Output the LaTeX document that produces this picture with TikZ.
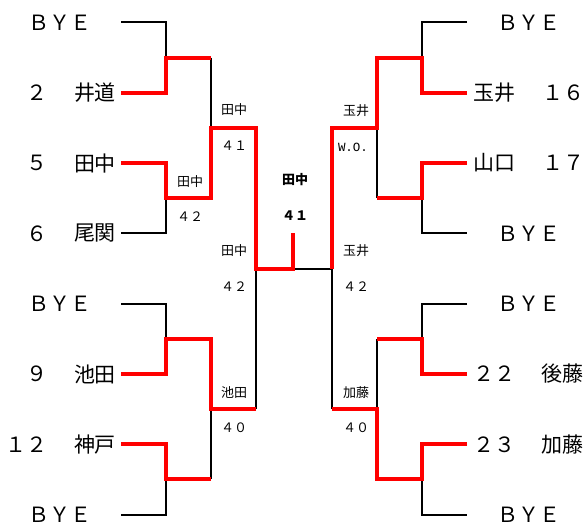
\documentclass[tikz,border=0pt]{standalone}
\usepackage{fontspec}
\setmainfont{Noto Sans CJK JP}
\newfontfamily\wofont{Liberation Mono}
\begin{document}
\begin{tikzpicture}[x=1pt,y=-1pt,
  bk/.style={line width=2pt,black},
  rd/.style={line width=4pt,red,line join=miter},
  big/.style={font=\fontsize{21}{22}\selectfont,inner sep=0pt},
  small/.style={font=\fontsize{13}{14}\selectfont,inner sep=0pt},
  smallb/.style={font=\fontsize{13}{14}\selectfont\bfseries,inner sep=0pt}]
\useasboundingbox (0,0) rectangle (587,524);
% leaf rows
\def\ya{22.5}\def\yb{92.8}\def\yc{163.1}\def\yd{233.4}
\def\ye{303.7}\def\yf{374}\def\yg{444.3}\def\yh{514.6}
% joins
\def\mab{57.65}\def\mcd{198.25}\def\mef{338.85}\def\mgh{479.45}
\def\Ma{127.95}\def\Mb{409.15}\def\F{268.5}
% x columns
\def\la{121}\def\lb{166}\def\lc{211}\def\ld{256}\def\cx{293}
\def\ra{467}\def\rb{422}\def\rc{377}\def\rd{332}
% ---- black bracket
\foreach \p/\q/\m in {\ya/\yb/\mab,\yc/\yd/\mcd,\ye/\yf/\mef,\yg/\yh/\mgh}{
  \draw[bk] (\la,\p) -- (\lb,\p) -- (\lb,\q) -- (\la,\q);
  \draw[bk] (\lb,\m) -- (\lc,\m);
  \draw[bk] (\ra,\p) -- (\rb,\p) -- (\rb,\q) -- (\ra,\q);
  \draw[bk] (\rb,\m) -- (\rc,\m);
}
\foreach \p/\q/\m in {\mab/\mcd/\Ma,\mef/\mgh/\Mb}{
  \draw[bk] (\lc,\p) -- (\lc,\q);
  \draw[bk] (\lc,\m) -- (\ld,\m);
  \draw[bk] (\rc,\p) -- (\rc,\q);
  \draw[bk] (\rc,\m) -- (\rd,\m);
}
\draw[bk] (\ld,\Ma) -- (\ld,\Mb);
\draw[bk] (\rd,\Ma) -- (\rd,\Mb);
\draw[bk] (\ld,\F) -- (\rd,\F);
% ---- red winners, left
\draw[rd] (\la,\yb) -- (\lb,\yb) -- (\lb,\mab) -- (\lc,\mab);
\draw[rd] (\la,\yc) -- (\lb,\yc) -- (\lb,\mcd) -- (\lc,\mcd) -- (\lc,\Ma)
  -- (\ld,\Ma) -- (\ld,\F) -- (\cx,\F) -- (\cx,233);
\draw[rd] (\la,\yf) -- (\lb,\yf) -- (\lb,\mef) -- (\lc,\mef) -- (\lc,\Mb) -- (\ld,\Mb);
\draw[rd] (\la,\yg) -- (\lb,\yg) -- (\lb,\mgh) -- (\lc,\mgh);
% ---- red winners, right
\draw[rd] (\ra,\yb) -- (\rb,\yb) -- (\rb,\mab) -- (\rc,\mab) -- (\rc,\Ma)
  -- (\rd,\Ma) -- (\rd,\F);
\draw[rd] (\ra,\yc) -- (\rb,\yc) -- (\rb,\mcd) -- (\rc,\mcd);
\draw[rd] (\ra,\yf) -- (\rb,\yf) -- (\rb,\mef) -- (\rc,\mef);
\draw[rd] (\ra,\yg) -- (\rb,\yg) -- (\rb,\mgh) -- (\rc,\mgh) -- (\rc,\Mb) -- (\rd,\Mb);
% ---- left names
\node[big] (lbye1) at (60,\ya) {ＢＹＥ};
\node[big] (ln2) at (37,\yb) {２};   \node[big] (lp2) at (95,\yb) {井道};
\node[big] (ln5) at (37,\yc) {５};   \node[big] (lp5) at (95,\yc) {田中};
\node[big] (ln6) at (37,\yd) {６};   \node[big] (lp6) at (95,\yd) {尾関};
\node[big] (lbye2) at (60,\ye) {ＢＹＥ};
\node[big] (ln9) at (37,\yf) {９};   \node[big] (lp9) at (95,\yf) {池田};
\node[big] (ln12) at (26.5,\yg) {１２}; \node[big] (lp12) at (95,\yg) {神戸};
\node[big] (lbye3) at (60,\yh) {ＢＹＥ};
% ---- right names
\node[big] (rbye1) at (529,\ya) {ＢＹＥ};
\node[big] (rp16) at (494.5,\yb) {玉井}; \node[big] (rn16) at (563,\yb) {１６};
\node[big] (rp17) at (494.5,\yc) {山口}; \node[big] (rn17) at (563,\yc) {１７};
\node[big] (rbye2) at (529,\yd) {ＢＹＥ};
\node[big] (rbye3) at (529,\ye) {ＢＹＥ};
\node[big] (rn22) at (494.5,\yf) {２２}; \node[big] (rp22) at (562.5,\yf) {後藤};
\node[big] (rn23) at (494.5,\yg) {２３}; \node[big] (rp23) at (562.5,\yg) {加藤};
\node[big] (rbye4) at (529,\yh) {ＢＹＥ};
% ---- score labels, left
\node[small] (s1) at (190,182) {田中}; \node[small] (s1n) at (190,217) {４２};
\node[small] (s2) at (234,110) {田中}; \node[small] (s2n) at (234,146) {４１};
\node[small] (s3) at (234,251) {田中}; \node[small] (s3n) at (234,287) {４２};
\node[small] (s4) at (234,393) {池田}; \node[small] (s4n) at (234,428) {４０};
% ---- centre
\node[smallb] (ch) at (295,180) {田中}; \node[smallb] (chn) at (295,216) {４１};
% ---- score labels, right
\node[small] (t1) at (356,111) {玉井};
\node[inner sep=0pt,font=\wofont\fontsize{12.5}{13}\selectfont] (t1n) at (353,147) {W.O.};
\node[small] (t2) at (356,251) {玉井}; \node[small] (t2n) at (356,287) {４２};
\node[small] (t3) at (356,393) {加藤}; \node[small] (t3n) at (356,428) {４０};
\end{tikzpicture}
\end{document}
